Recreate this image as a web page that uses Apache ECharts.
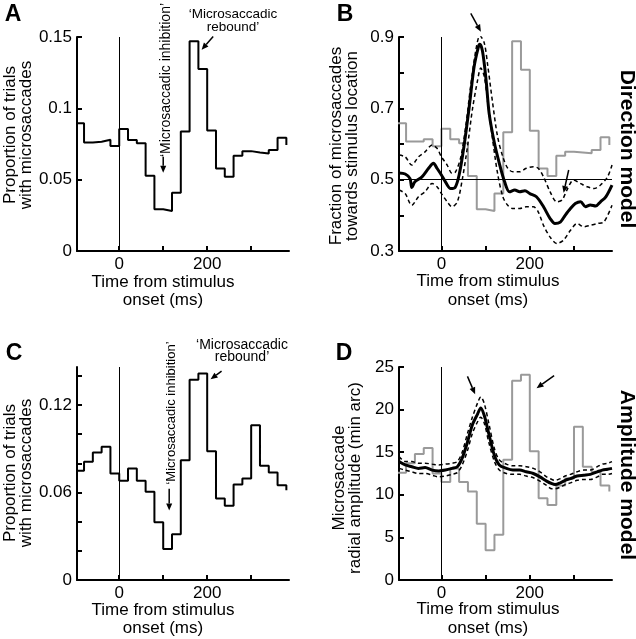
<!DOCTYPE html>
<html><head><meta charset="utf-8">
<script src="https://cdn.jsdelivr.net/npm/echarts@6/dist/echarts.min.js"></script>
<style>html,body{margin:0;padding:0;background:#fff}#c{width:636px;height:639px}</style>
</head><body><div id="c"></div>
<script>
// ---------- data ----------
// histogram bin left edges (ms) plus closing edge
const binEdges = [-100,-80,-60,-40,-20,0,20,40,60,80,100,120,140,160,180,200,220,240,260,280,300,320,340,360,380];
// Panel A: proportion of trials with microsaccades (direction model data)
const propA = [0.0895,0.076,0.0766,0.078,0.0736,0.0855,0.0778,0.0755,0.0527,0.0293,0.0281,0.0408,0.0837,0.147,0.1275,0.0844,0.0579,0.052,0.0668,0.070,0.0691,0.0684,0.0708,0.0794,0.0743];
// Panel B: grey histogram overlay
const grayB = [0.658,0.607,0.607,0.613,0.594,0.643,0.613,0.602,0.51,0.417,0.412,0.461,0.633,0.888,0.808,0.6375,0.5316,0.51,0.567,0.578,0.576,0.574,0.583,0.619,0.597];
// Panel B: fraction towards stimulus (mean and dashed bounds)
const meanBx = [-96,-82,-71,-67,-60,-44,-29,-18,-10,0,9,21,31,40,51,63,74,84,87,93,101,108,120,131,143,154,166,177,189,200,215,231,246,257,269,280,292,303,315,326,337,349,360,372,386];
const meanBy = [0.519,0.516,0.503,0.478,0.494,0.508,0.532,0.546,0.532,0.513,0.494,0.475,0.478,0.513,0.593,0.705,0.817,0.874,0.880,0.86,0.78,0.686,0.602,0.546,0.494,0.466,0.471,0.466,0.469,0.461,0.452,0.424,0.391,0.377,0.381,0.4,0.419,0.433,0.438,0.424,0.429,0.426,0.438,0.452,0.485];
const upperBx = [-96,-82,-67,-52,-37,-21,-10,0,13,24,32,44,55,66,78,87,97,105,116,127,139,150,162,177,192,208,219,231,246,261,273,284,299,315,330,345,360,376,386];
const upperBy = [0.569,0.564,0.541,0.564,0.578,0.597,0.588,0.564,0.541,0.518,0.522,0.564,0.649,0.761,0.864,0.904,0.883,0.818,0.714,0.621,0.564,0.532,0.522,0.522,0.532,0.536,0.532,0.508,0.466,0.438,0.443,0.471,0.499,0.489,0.48,0.475,0.485,0.508,0.541];
const lowerBx = [-96,-82,-67,-52,-37,-21,-10,0,13,24,36,47,59,70,82,89,97,105,116,127,139,150,162,177,192,208,219,231,246,261,276,292,307,322,337,353,368,386];
const lowerBy = [0.471,0.461,0.428,0.452,0.466,0.489,0.48,0.461,0.438,0.424,0.438,0.499,0.593,0.696,0.78,0.813,0.789,0.714,0.611,0.518,0.452,0.428,0.419,0.419,0.424,0.424,0.41,0.372,0.339,0.321,0.33,0.358,0.377,0.368,0.372,0.377,0.382,0.428];
// Panel C: proportion of trials with microsaccades (amplitude model data)
const propC = [0.0748,0.081,0.0874,0.0913,0.073,0.068,0.0764,0.068,0.0605,0.0395,0.0212,0.0313,0.0821,0.1373,0.1415,0.0883,0.0559,0.0509,0.0655,0.0696,0.106,0.0783,0.0737,0.065,0.0616];
// Panel D: grey histogram overlay
const grayD = [12.6,13.7,14.8,15.5,12.5,11.5,13.1,11.5,10.4,6.6,3.5,5.3,14.1,23.4,24.1,15.1,9.6,8.8,11.1,11.9,18.0,13.3,12.7,11.1,10.4];
// Panel D: radial amplitude (mean and dashed bounds)
const ampDx = [-96,-82,-67,-52,-37,-21,-6,9,24,36,47,59,70,82,89,97,108,120,131,147,162,177,192,208,223,238,250,257,269,280,292,307,322,337,353,364,376,386];
const meanDy = [13.9,13.5,13.3,13.1,13.2,12.9,12.8,12.9,13.1,13.3,14.3,16.2,18.2,19.5,20.2,19.3,17.0,14.6,13.5,13.1,12.9,12.9,12.7,12.5,12.1,11.6,11.3,11.2,11.4,11.7,11.9,12.2,12.3,12.4,12.7,12.9,13.0,13.1];
const upperDy = [14.5,13.9,13.9,13.7,13.7,13.6,13.5,13.6,13.7,13.9,15.0,17.2,19.1,20.8,21.5,20.7,18.2,15.4,14.1,13.6,13.4,13.4,13.3,13.1,12.7,12.1,11.8,11.7,11.9,12.2,12.4,12.7,12.9,12.9,13.3,13.6,13.7,13.9];
const lowerDy = [13.1,12.9,12.7,12.5,12.5,12.3,12.1,12.2,12.4,12.6,13.5,15.2,17.2,18.6,19.1,18.4,16.0,13.9,12.9,12.5,12.4,12.4,12.2,12.0,11.6,11.1,10.7,10.7,10.9,11.2,11.4,11.7,11.8,11.8,12.1,12.4,12.4,12.5];
// tick values
const xTicks = [0,100,200,300];
const xLabels = [0,200];
const yTicksA = [0,0.05,0.1,0.15], yLabelsA = [0,0.05,0.1,0.15];
const yTicksB = [0.3,0.4,0.5,0.6,0.7,0.8,0.9], yLabelsB = [0.3,0.5,0.7,0.9];
const yTicksC = [0,0.02,0.04,0.06,0.08,0.1,0.12,0.14], yLabelsC = [0,0.06,0.12];
const yTicksD = [0,5,10,15,20,25], yLabelsD = [0,5,10,15,20,25];
// annotation arrows in data coordinates [grid, from, to]
const arrowsData = [
  [0,[100,0.0661],[100,0.0548]],
  [0,[213.6,0.1504],[187.3,0.1411]],
  [1,[66.4,0.966],[89.3,0.915]],
  [1,[288,0.527],[276.5,0.463]],
  [2,[113.6,0.0625],[113.6,0.0477]],
  [2,[232.7,0.1432],[207.7,0.1376]],
  [3,[58.9,23.9],[76.3,21.8]],
  [3,[255,24.0],[215.3,22.5]]
];

// ---------- chart ----------
const F = '"Liberation Sans", Arial, Helvetica, sans-serif';
const chart = echarts.init(document.getElementById('c'), null, {renderer:'canvas'});
const zip = (xs, ys) => xs.map((x,i)=>[x, ys[i]]);
const grids = [
  {left:77, top:37, width:212, height:214},
  {left:399, top:37, width:213, height:214},
  {left:77, top:367, width:212, height:213},
  {left:399, top:367, width:213, height:213}
];
function xAx(gi){
  return {type:'value', gridIndex:gi, min:-96, max:386,
    axisLine:{show:true, onZero:false, lineStyle:{color:'#000', width:2}},
    axisTick:{show:true, inside:true, length:5, lineStyle:{color:'#000', width:2}, customValues:xTicks},
    axisLabel:{color:'#000', fontSize:17, fontFamily:F, margin:5, customValues:xLabels},
    splitLine:{show:false}};
}
function yAx(gi,min,max,ticks,labels){
  return {type:'value', gridIndex:gi, min:min, max:max,
    axisLine:{show:true, onZero:false, lineStyle:{color:'#000', width:2}},
    axisTick:{show:true, inside:true, length:5, lineStyle:{color:'#000', width:2}, customValues:ticks},
    axisLabel:{color:'#000', fontSize:17, fontFamily:F, margin:5, customValues:labels},
    splitLine:{show:false}};
}
const vline = {silent:true, symbol:['none','none'], label:{show:false}, animation:false,
  lineStyle:{color:'#000', width:1, type:'solid'}, emphasis:{disabled:true}, data:[{xAxis:0}]};
const vhline = Object.assign({}, vline, {data:[{xAxis:0},{yAxis:0.5}]});
function stepS(gi, vals, color, ml){
  const s = {type:'line', xAxisIndex:gi, yAxisIndex:gi, step:'end', showSymbol:false, symbol:'none',
    data: zip(binEdges, vals), lineStyle:{color:color, width:2}, emphasis:{disabled:true}, animation:false, z:2};
  if (ml) s.markLine = ml;
  return s;
}
function curve(gi, xs, ys, w, dashed){
  return {type:'line', xAxisIndex:gi, yAxisIndex:gi, smooth:0.3, showSymbol:false, symbol:'none',
    data: zip(xs, ys), lineStyle:{color:'#000', width:w, type: dashed ? [4,3] : 'solid'},
    emphasis:{disabled:true}, animation:false, z:3};
}
const option = {
  animation:false,
  backgroundColor:'#fff',
  grid: grids,
  xAxis: [xAx(0), xAx(1), xAx(2), xAx(3)],
  yAxis: [yAx(0,0,0.15,yTicksA,yLabelsA), yAx(1,0.3,0.9,yTicksB,yLabelsB),
          yAx(2,0,0.146,yTicksC,yLabelsC), yAx(3,0,25,yTicksD,yLabelsD)],
  series: [
    stepS(0, propA, '#000', vline),
    stepS(1, grayB, '#9a9a9a', vhline),
    curve(1, upperBx, upperBy, 1.5, true),
    curve(1, lowerBx, lowerBy, 1.5, true),
    curve(1, meanBx, meanBy, 3, false),
    stepS(2, propC, '#000', vline),
    stepS(3, grayD, '#9a9a9a', vline),
    curve(3, ampDx, upperDy, 1.5, true),
    curve(3, ampDx, lowerDy, 1.5, true),
    curve(3, ampDx, meanDy, 3, false)
  ]
};
chart.setOption(option);

// ---------- annotations ----------
function txt(x, y, text, size, opts){
  opts = opts || {};
  return {type:'text', x:x, y:y, rotation:opts.rot || 0, silent:true, z:10,
    style:{text:text, fontSize:size, fontFamily:F, fontWeight:opts.bold ? 'bold' : 'normal',
      fill:'#000', align:'center', verticalAlign:'middle', lineHeight:opts.lh || size}};
}
const R = Math.PI/2;
const g = [
  txt(13, 15, 'A', 23, {bold:true}), txt(345, 15, 'B', 23, {bold:true}),
  txt(14, 354, 'C', 23, {bold:true}), txt(344, 354, 'D', 23, {bold:true}),
  txt(18, 135, 'Proportion of trials\nwith microsaccades', 17, {rot:R, lh:16}),
  txt(344, 146, 'Fraction of microsaccades\ntowards stimulus location', 17, {rot:R, lh:16}),
  txt(18, 473, 'Proportion of trials\nwith microsaccades', 17, {rot:R, lh:16}),
  txt(347, 478, 'Microsaccade\nradial amplitude (min arc)', 17, {rot:R, lh:16}),
  txt(163, 291, 'Time from stimulus\nonset (ms)', 17, {lh:18}),
  txt(488, 291, 'Time from stimulus\nonset (ms)', 17, {lh:19}),
  txt(163, 619, 'Time from stimulus\nonset (ms)', 17, {lh:18}),
  txt(488, 619, 'Time from stimulus\nonset (ms)', 17, {lh:19}),
  txt(627, 149, 'Direction model', 21, {rot:-R, bold:true}),
  txt(627, 475, 'Amplitude model', 21, {rot:-R, bold:true}),
  txt(166, 80, '\u2018Microsaccadic inhibition\u2019', 14, {rot:R}),
  txt(233, 21, '\u2018Microsaccadic\nrebound\u2019', 13.5, {lh:12.5}),
  txt(171, 413, '\u2018Microsaccadic inhibition\u2019', 13, {rot:R}),
  txt(242, 351, '\u2018Microsaccadic\nrebound\u2019', 14, {lh:12})
];
arrowsData.forEach(a => {
  const p1 = chart.convertToPixel({gridIndex:a[0]}, a[1]);
  const p2 = chart.convertToPixel({gridIndex:a[0]}, a[2]);
  const dx = p2[0]-p1[0], dy = p2[1]-p1[1], L = Math.hypot(dx,dy);
  const ux = dx/L, uy = dy/L, nx = -uy, ny = ux, hl = 7, hw = 3;
  const bx = p2[0]-ux*hl, by = p2[1]-uy*hl;
  g.push({type:'line', silent:true, z:10, shape:{x1:p1[0], y1:p1[1], x2:bx, y2:by},
    style:{stroke:'#000', lineWidth:1.5}});
  g.push({type:'polygon', silent:true, z:10,
    shape:{points:[[p2[0],p2[1]],[bx+nx*hw,by+ny*hw],[bx-nx*hw,by-ny*hw]]},
    style:{fill:'#000'}});
});
chart.setOption({graphic: g});
</script>
</body></html>
